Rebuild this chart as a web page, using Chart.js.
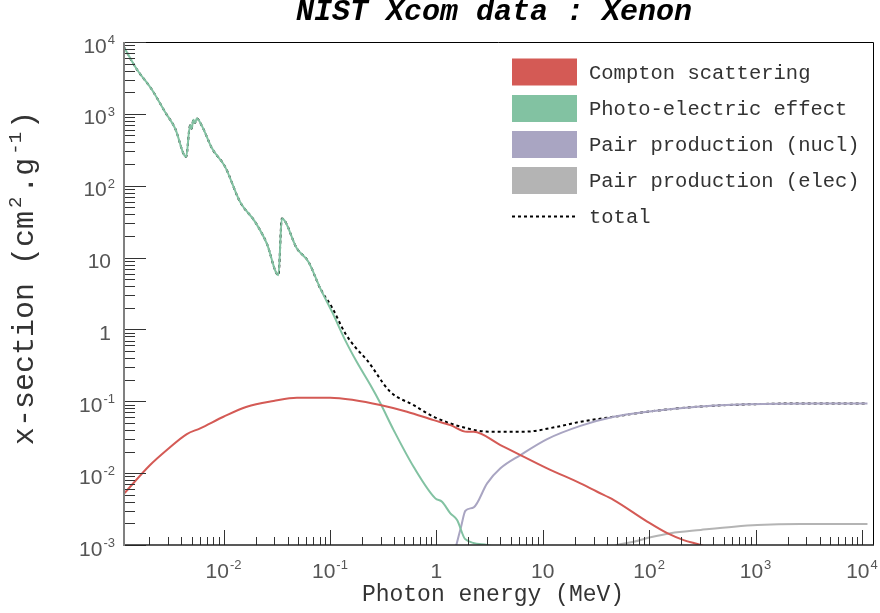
<!DOCTYPE html>
<html>
<head>
<meta charset="utf-8">
<title>NIST Xcom data : Xenon</title>
<script src="https://cdn.jsdelivr.net/npm/chart.js@4.4.1/dist/chart.umd.min.js"></script>
<style>
  body { margin: 0; background: #fff; }
  canvas { display: block; }
</style>
</head>
<body>
<canvas id="xcom" width="880" height="613"></canvas>
<script>
// Xenon photon cross sections, energy in MeV, values in cm2/g
const comptonE  = [1.175e-3, 2.04e-3, 2.93e-3, 4.52e-3, 6.03e-3, 9.98e-3, 0.01656, 0.0295, 0.0489, 0.1007,
                   0.1667, 0.297, 0.530, 0.943, 1.354, 1.945, 2.243, 4.0, 6.17, 11.0,
                   22.6, 28.1, 32.5, 46.6, 95.9, 148, 211, 305, 470];
const comptonXs = [5.28e-3, 0.01297, 0.0210, 0.0350, 0.0420, 0.0609, 0.0839, 0.1007, 0.112, 0.112,
                   0.104, 0.0885, 0.0714, 0.0547, 0.0466, 0.0377, 0.0377, 0.0246, 0.01786, 0.01167,
                   7.21e-3, 6.15e-3, 5.51e-3, 4.22e-3, 2.12e-3, 1.46e-3, 1.17e-3, 1.0e-3, 7.9e-4];

const photoE  = [1.16e-3, 1.53e-3, 2.11e-3, 2.82e-3, 3.51e-3, 4.45e-3, 4.85e-3, 5.01e-3, 5.21e-3, 5.38e-3,
                 5.61e-3, 6.25e-3, 7.81e-3, 0.01035, 0.0143, 0.0198, 0.0255, 0.0328, 0.0353, 0.0489,
                 0.0629, 0.0811, 0.105, 0.139, 0.179, 0.240, 0.297, 0.397, 0.611, 0.978,
                 1.131, 1.354, 1.566, 1.875, 3.0, 4.97];
const photoXs = [8440, 4170, 2198, 1063, 625, 252, 694, 621, 828, 751,
                 861, 683, 329, 183, 59.6, 31.4, 15.7, 5.69, 35.0, 13.4,
                 8.71, 3.72, 1.74, 0.710, 0.351, 0.168, 0.0944, 0.0397, 0.01227, 4.46e-3,
                 4.0e-3, 2.76e-3, 2.23e-3, 1.20e-3, 1.0e-3, 7.9e-4];

const pairNuclE  = [1.414, 1.542, 1.708, 1.875, 2.244, 3.0, 4.0, 6.17, 11.0, 22.6,
                    46.6, 95.9, 283.6, 837, 3543, 11270];
const pairNuclXs = [6.2e-4, 1.0e-3, 1.80e-3, 3.0e-3, 3.34e-3, 7.21e-3, 0.01167, 0.01786, 0.0298, 0.0455,
                    0.0609, 0.0714, 0.0839, 0.0906, 0.0935, 0.0935];

const pairElecE  = [34.9, 50.1, 71.8, 103, 159, 305, 626, 1040, 2655, 11270];
const pairElecXs = [7.9e-4, 1.0e-3, 1.11e-3, 1.28e-3, 1.46e-3, 1.62e-3, 1.80e-3, 1.90e-3, 1.96e-3, 1.96e-3];

const totalE  = [1.16e-3, 1.53e-3, 2.11e-3, 2.82e-3, 3.51e-3, 4.45e-3, 4.85e-3, 5.01e-3, 5.21e-3, 5.38e-3,
                 5.61e-3, 6.25e-3, 7.81e-3, 0.01035, 0.0143, 0.0198, 0.0255, 0.0328, 0.0353, 0.0489,
                 0.0629, 0.0811, 0.105, 0.139, 0.173, 0.223, 0.369, 0.611, 0.943, 1.945,
                 3.22, 6.63, 13.65, 22.6, 46.6, 95.9, 283.6, 837, 3543, 11270];
const totalXs = [8440, 4170, 2198, 1063, 625, 252, 694, 621, 828, 751,
                 861, 683, 329, 183, 59.6, 31.4, 15.7, 5.69, 35.0, 13.4,
                 8.71, 3.72, 2.0, 0.887, 0.567, 0.374, 0.1356, 0.0885, 0.0609, 0.0420,
                 0.0377, 0.0377, 0.0442, 0.0519, 0.0609, 0.0714, 0.0839, 0.0906, 0.0935, 0.0935];

// axis decades and their labels as [mantissa, exponent]
const xTickValues = [1e-2, 1e-1, 1, 10, 1e2, 1e3, 1e4];
const xTickLabels = [['10', '-2'], ['10', '-1'], ['1', ''], ['10', ''], ['10', '2'], ['10', '3'], ['10', '4']];
const yTickValues = [1e-3, 1e-2, 1e-1, 1, 10, 1e2, 1e3, 1e4];
const yTickLabels = [['10', '-3'], ['10', '-2'], ['10', '-1'], ['1', ''], ['10', ''], ['10', '2'], ['10', '3'], ['10', '4']];

const MONO = '"Liberation Mono", "DejaVu Sans Mono", monospace';
const SANS = '"Liberation Sans", Arial, sans-serif';

function pts(es, vs) {
  return es.map((e, i) => ({ x: e, y: vs[i] }));
}

function series(label, es, vs, color, extra) {
  return Object.assign({
    label: label,
    data: pts(es, vs),
    borderColor: color,
    backgroundColor: color,
    borderWidth: 2,
    pointRadius: 0,
    showLine: true,
    cubicInterpolationMode: 'monotone',
    clip: 0
  }, extra || {});
}

// text with a raised exponent, e.g. 10^-2
function drawPow(ctx, base, exp, x, y, align, baseFont, supFont, rise) {
  ctx.font = baseFont;
  const wb = ctx.measureText(base).width;
  ctx.font = supFont;
  const we = exp ? ctx.measureText(exp).width + 1 : 0;
  const w = wb + we;
  let x0 = x;
  if (align === 'right') x0 = x - w;
  if (align === 'center') x0 = x - w / 2;
  ctx.textAlign = 'left';
  ctx.font = baseFont;
  ctx.fillText(base, x0, y);
  if (exp) {
    ctx.font = supFont;
    ctx.fillText(exp, x0 + wb + 1, y - rise);
  }
}

const rootFrame = {
  id: 'rootFrame',
  afterDraw(chart) {
    const { ctx, chartArea: a, scales: { x, y } } = chart;
    ctx.save();

    // frame
    ctx.lineWidth = 1;
    ctx.strokeStyle = '#000';
    ctx.beginPath();
    ctx.moveTo(a.left, a.top + 0.5);
    ctx.lineTo(a.right + 0.5, a.top + 0.5);
    ctx.lineTo(a.right + 0.5, a.bottom);
    ctx.stroke();

    // ticks inside the frame
    ctx.strokeStyle = '#333';
    ctx.beginPath();
    for (let d = -3; d <= 4; d++) {
      for (let m = 1; m <= 9; m++) {
        const v = m * Math.pow(10, d);
        if (v < y.min || v > y.max) continue;
        const py = Math.round(y.getPixelForValue(v)) + 0.5;
        ctx.moveTo(a.left, py);
        ctx.lineTo(a.left + (m === 1 ? 22 : 11), py);
      }
    }
    for (let d = -3; d <= 4; d++) {
      for (let m = 1; m <= 9; m++) {
        const v = m * Math.pow(10, d);
        if (v < x.min || v > x.max) continue;
        const px = Math.round(x.getPixelForValue(v)) + 0.5;
        ctx.moveTo(px, a.bottom);
        ctx.lineTo(px, a.bottom - (m === 1 ? 15 : 8));
      }
    }
    ctx.stroke();

    // axis lines
    ctx.strokeStyle = '#222';
    ctx.lineWidth = 1.5;
    ctx.beginPath();
    ctx.moveTo(a.left, a.bottom);
    ctx.lineTo(a.right + 1, a.bottom);
    ctx.stroke();
    ctx.strokeStyle = '#808080';
    ctx.lineWidth = 2;
    ctx.beginPath();
    ctx.moveTo(a.left, a.top);
    ctx.lineTo(a.left, a.bottom + 1);
    ctx.stroke();

    // tick labels
    const tickFont = '21px ' + SANS;
    const supFont = '13px ' + SANS;
    ctx.fillStyle = '#555';
    ctx.textBaseline = 'alphabetic';
    yTickValues.forEach((v, i) => {
      const py = y.getPixelForValue(v);
      const [b, e] = yTickLabels[i];
      drawPow(ctx, b, e, e ? 115 : 111, py + 10.5, 'right', tickFont, supFont, 8.7);
    });
    xTickValues.forEach((v, i) => {
      const px = x.getPixelForValue(v);
      const [b, e] = xTickLabels[i];
      drawPow(ctx, b, e, px, 578, 'center', tickFont, supFont, 8.7);
    });

    // title and axis titles
    ctx.fillStyle = '#000';
    ctx.textAlign = 'center';
    ctx.font = 'italic bold 30px ' + MONO;
    ctx.fillText('NIST Xcom data : Xenon', 494, 20);

    ctx.fillStyle = '#333';
    ctx.font = '23px ' + MONO;
    ctx.fillText('Photon energy (MeV)', 493, 601);

    ctx.save();
    ctx.translate(33, 278);
    ctx.rotate(-Math.PI / 2);
    const big = '30px ' + MONO;
    const small = '19px ' + MONO;
    const parts = [['x-section (cm', false], ['2', true], ['.g', false], ['-1', true], [')', false]];
    const gap = 3;
    let total = 0;
    parts.forEach(([t, sup]) => {
      ctx.font = sup ? small : big;
      total += ctx.measureText(t).width + (sup ? 2 * gap : 0);
    });
    let cx = -total / 2;
    ctx.textAlign = 'left';
    parts.forEach(([t, sup]) => {
      ctx.font = sup ? small : big;
      if (sup) cx += gap;
      ctx.fillText(t, cx, sup ? -12 : 0);
      cx += ctx.measureText(t).width + (sup ? gap : 0);
    });
    ctx.restore();

    // legend
    const rows = [72, 108.5, 144.5, 180.5, 216.5];
    ctx.font = '20.5px ' + MONO;
    ctx.textAlign = 'left';
    chart.data.datasets.forEach((ds, i) => {
      const cy = rows[i];
      if (ds.borderDash) {
        ctx.strokeStyle = ds.borderColor;
        ctx.lineWidth = 2;
        ctx.setLineDash(ds.borderDash);
        ctx.beginPath();
        ctx.moveTo(512, cy);
        ctx.lineTo(577, cy);
        ctx.stroke();
        ctx.setLineDash([]);
      } else {
        ctx.fillStyle = ds.backgroundColor;
        ctx.fillRect(512, cy - 13.5, 65, 27);
      }
      ctx.fillStyle = '#333';
      ctx.fillText(ds.label, 589, cy + 6.5);
    });

    ctx.restore();
  }
};

new Chart(document.getElementById('xcom'), {
  type: 'scatter',
  data: {
    datasets: [
      series('Compton scattering', comptonE, comptonXs, '#d45a55'),
      series('Photo-electric effect', photoE, photoXs, '#82c2a2'),
      series('Pair production (nucl)', pairNuclE, pairNuclXs, '#a9a5c2'),
      series('Pair production (elec)', pairElecE, pairElecXs, '#b4b4b4'),
      series('total', totalE, totalXs, '#000', { borderDash: [3, 3], borderWidth: 2 })
    ]
  },
  options: {
    responsive: false,
    animation: false,
    devicePixelRatio: 1,
    layout: { padding: { left: 124, top: 42, right: 7, bottom: 68 } },
    plugins: {
      legend: { display: false },
      title: { display: false },
      tooltip: { enabled: false }
    },
    scales: {
      x: { type: 'logarithmic', min: 1.16e-3, max: 1.27e4, display: false },
      y: { type: 'logarithmic', min: 1e-3, max: 1e4, display: false }
    }
  },
  plugins: [rootFrame]
});
</script>
</body>
</html>
